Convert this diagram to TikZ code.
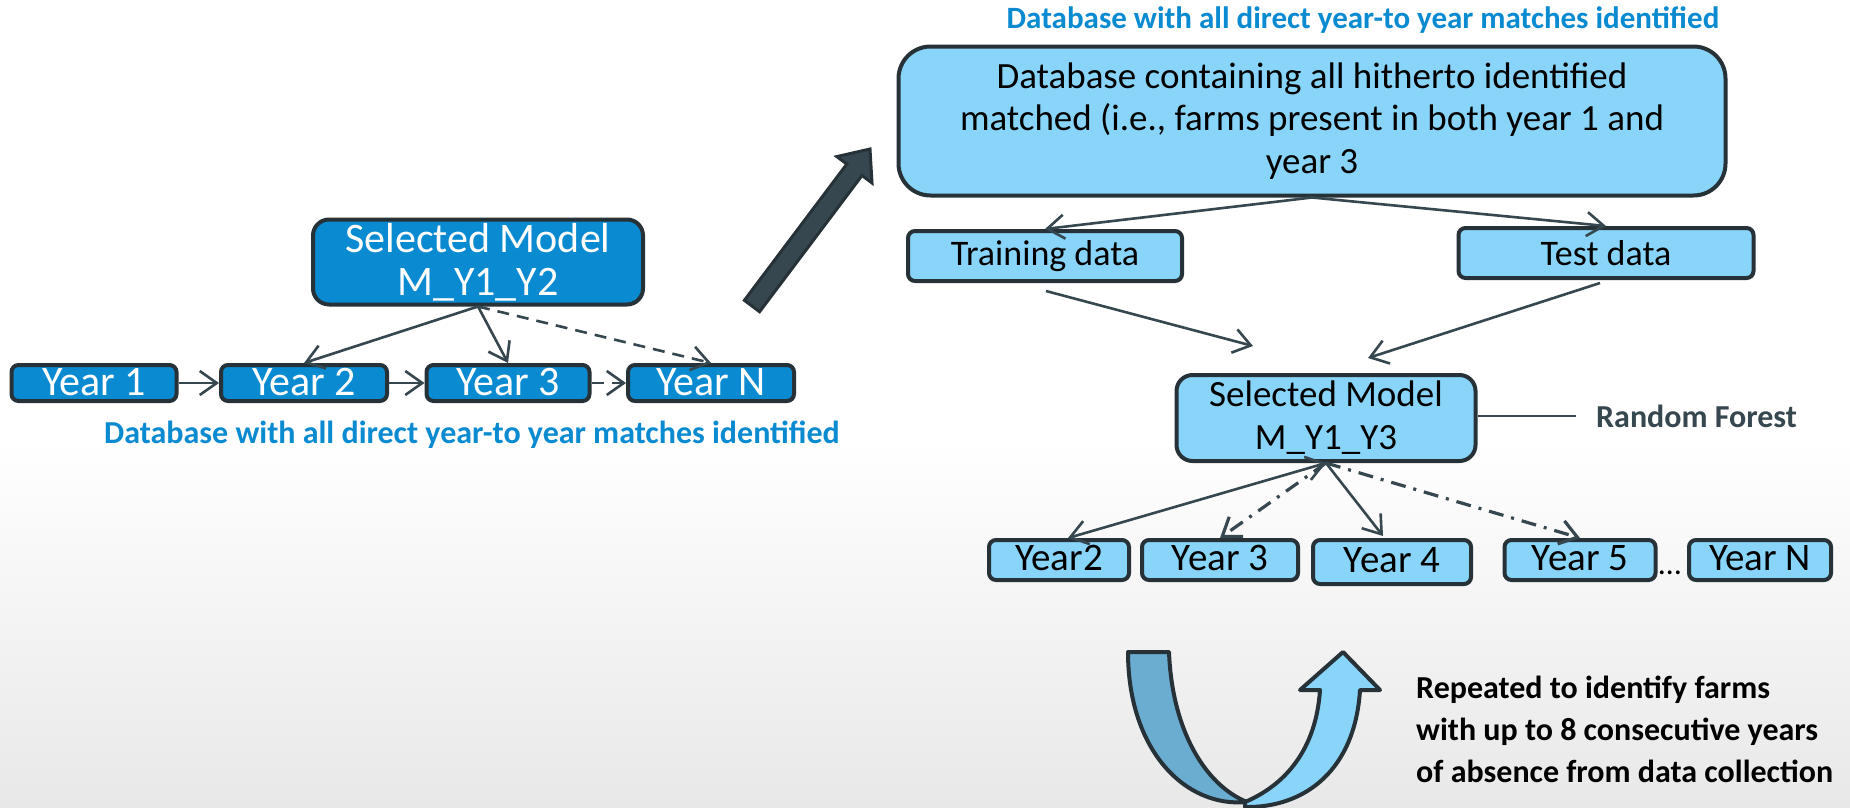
\documentclass[tikz,border=0pt]{standalone}
\usepackage{fontspec}
\setmainfont{Carlito}
\usetikzlibrary{arrows.meta,calc}
\definecolor{deepblue}{HTML}{0A8AD0}
\definecolor{skyblue}{HTML}{89D5FA}
\definecolor{steelband}{HTML}{6AADD0}
\definecolor{edgeline}{HTML}{263238}
\definecolor{wire}{HTML}{37474F}
\definecolor{floorgrey}{HTML}{E8E8E8}

\newcommand{\modelfont}{\fontsize{42}{42.5}\selectfont}
\newcommand{\smallmodelfont}{\fontsize{37}{43}\selectfont}
\newcommand{\yearfont}{\fontsize{42}{42}\selectfont}
\newcommand{\smallyearfont}{\fontsize{39}{39}\selectfont}
\newcommand{\dbfont}{\fontsize{37}{42.5}\selectfont}
\newcommand{\datafont}{\fontsize{36}{36}\selectfont}
\newcommand{\capfont}{\bfseries\fontsize{31}{31}\selectfont}
\newcommand{\notefont}{\bfseries\fontsize{32}{42}\selectfont}

\begin{document}
\begin{tikzpicture}[x=1pt,y=-1pt,
  box/.style={draw=edgeline, line width=4pt, rounded corners=7pt, inner sep=0pt, align=center},
  darkbox/.style={box, fill=deepblue, text=white},
  lightbox/.style={box, fill=skyblue, text=black},
  yearbox/.style={minimum height=36pt, text height=28pt, text depth=4pt, font=\yearfont},
  ryearbox/.style={minimum height=40pt, text height=26pt, text depth=5pt, font=\smallyearfont},
  conn/.style={draw=wire, line width=2.6pt, -{Straight Barb[length=17pt,width=24pt]}},
  dualconn/.style={conn, {Straight Barb[length=17pt,width=24pt]}-{Straight Barb[length=17pt,width=24pt]}},
  dashconn/.style={conn, dash pattern=on 12pt off 8pt},
  dotdashconn/.style={conn, line width=3.2pt, dash pattern=on 15pt off 8pt on 3pt off 8pt},
  caption/.style={font=\capfont, text=deepblue, inner sep=0pt}
]
% page and floor shading
\useasboundingbox (0,0) rectangle (1850,807);
\fill[white] (0,0) rectangle (1850,440);
\shade[top color=white, bottom color=floorgrey] (0,439) rectangle (1850,807);

% ---- left: first model and yearly chain ----
\node[darkbox, rounded corners=16pt, minimum width=330pt, minimum height=85pt, font=\modelfont] (sm1) at (478,262) {Selected Model\\M\_Y1\_Y2};
\node[darkbox, yearbox, minimum width=165pt] (y1) at (94,383) {Year 1};
\node[darkbox, yearbox, minimum width=166pt] (y2) at (304,383) {Year 2};
\node[darkbox, yearbox, minimum width=163pt] (y3) at (508,383) {Year 3};
\node[darkbox, yearbox, minimum width=166pt] (yn) at (711,383) {Year N};
\node[caption, font=\bfseries\fontsize{32}{32}\selectfont] (cap1) at (472,435) {Database with all direct year-to year matches identified};

\draw[conn] (y1) -- (y2);
\draw[conn] (y2) -- (y3);
\draw[dashconn] (y3) -- (yn);
\draw[conn] (sm1.south) -- (y2.north);
\draw[conn] (sm1.south) -- (y3.north);
\draw[dashconn] (sm1.south) -- (yn.north);

% ---- block arrow leading to the right part ----
\filldraw[fill=wire, draw=edgeline, line width=3pt, line join=miter]
  (744.4,300.3) -- (846.8,164.1) -- (836.8,156.6) -- (870,149) -- (872.0,183.0)
  -- (862.0,175.5) -- (759.6,311.7) -- cycle;

% ---- right: database, split, second model ----
\node[caption] (cap2) at (1363,20) {Database with all direct year-to year matches identified};
\node[lightbox, rounded corners=32pt, minimum width=827pt, minimum height=149pt, font=\dbfont] (db) at (1312,121)
  {Database containing all hitherto identified\\matched (i.e., farms present in both year 1 and\\year 3};
\node[lightbox, minimum width=274pt, minimum height=50pt, font=\datafont] (train) at (1045,256) {Training data};
\node[lightbox, minimum width=295pt, minimum height=50pt, font=\datafont] (test) at (1606,253) {Test data};
\node[lightbox, rounded corners=16pt, minimum width=299pt, minimum height=86pt, font=\smallmodelfont] (sm2) at (1326,418) {Selected Model\\M\_Y1\_Y3};

\draw[conn] (db.south) -- (train.north);
\draw[conn] (db.south) -- (test.north);
\draw[conn] ($(train.south)+(1,8)$) -- ($(sm2.north)+(-73,-27)$);
\draw[conn] ($(test.south)+(-6,3)$) -- ($(sm2.north)+(42,-15)$);

\coordinate (rfend) at (1576,416);
\draw[draw=wire, line width=2pt] (sm2.east |- rfend) -- (rfend);
\node[anchor=west, inner sep=0pt, font=\bfseries\fontsize{32}{32}\selectfont, text=wire] (rf) at (1596,416) {Random Forest};

% ---- right: later years ----
\node[lightbox, ryearbox, minimum width=140pt] (r2) at (1059,560) {Year2};
\node[lightbox, ryearbox, minimum width=156pt] (r3) at (1220,560) {Year 3};
\node[lightbox, ryearbox, minimum width=158pt, minimum height=44pt] (r4) at (1392,562) {Year 4};
\node[lightbox, ryearbox, minimum width=151pt] (r5) at (1580,560) {Year 5};
\node[anchor=base, inner sep=0pt, font=\fontsize{32}{32}\selectfont] (dots) at (1670,574) {\dots};
\node[lightbox, ryearbox, minimum width=142pt] (rn) at (1760,560) {Year N};

\draw[dualconn] (sm2.south) -- ($(r2.north)+(9,0)$);
\draw[dotdashconn] (sm2.south) -- (r3.north);
\draw[conn] (sm2.south) -- ($(r4.north)+(-9,-2)$);
\draw[dotdashconn] (sm2.south) -- (r5.north);

% ---- repetition loop ----
\filldraw[fill=steelband, draw=edgeline, line width=4pt, line join=round]
  (1128,652) -- (1169,652) .. controls (1172,730) and (1205,785) .. (1247,802)
  .. controls (1185,808) and (1128,750) .. (1128,652) -- cycle;
\filldraw[fill=skyblue, draw=edgeline, line width=4pt, line join=round]
  (1245,802) .. controls (1285,785) and (1316,750) .. (1320,690) -- (1300,690) -- (1343,652)
  -- (1380,690) -- (1360,690) .. controls (1355,770) and (1305,808) .. (1245,807) -- cycle;
\node[anchor=base west, align=left, inner sep=0pt, font=\notefont] (note) at (1416,782)
  {Repeated to identify farms\\with up to 8 consecutive years\\of absence from data collection};
\end{tikzpicture}
\end{document}
